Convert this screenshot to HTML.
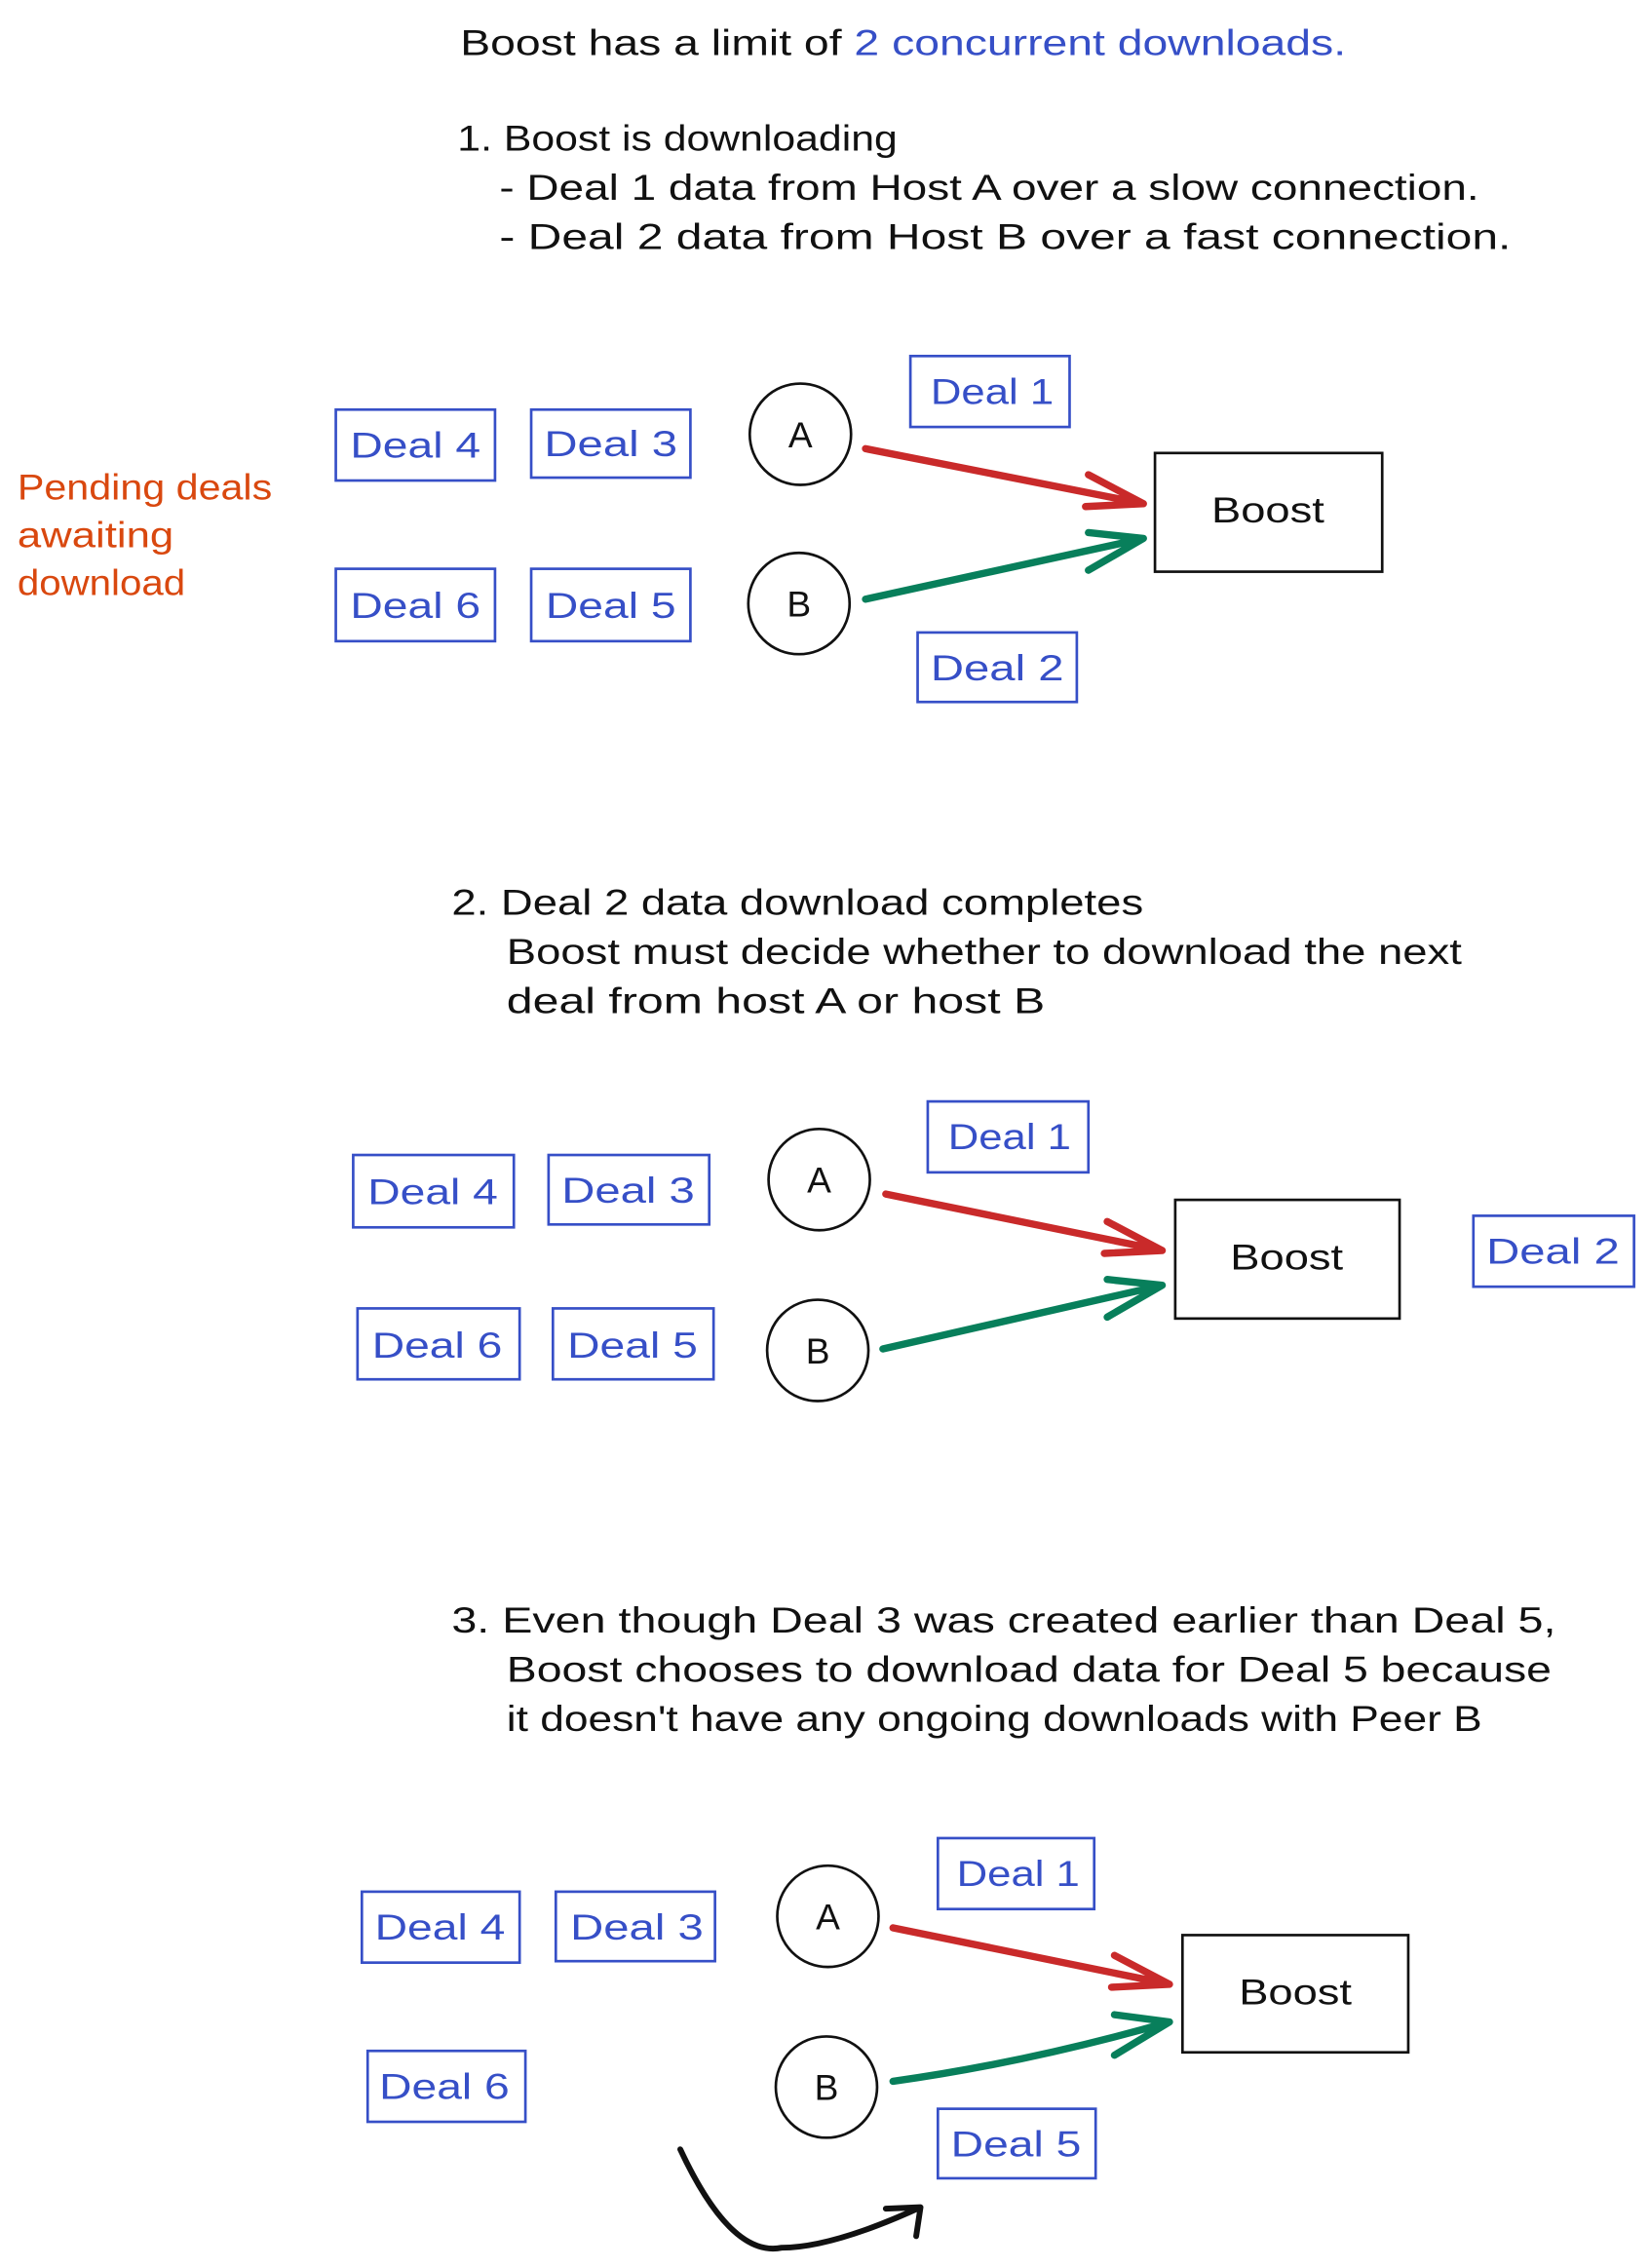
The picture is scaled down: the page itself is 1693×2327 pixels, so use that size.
<!DOCTYPE html>
<html><head><meta charset="utf-8"><style>
html,body{margin:0;padding:0;background:#fff;}
svg{display:block;}
text{font-family:"Liberation Sans",sans-serif;font-size:25px;}
.k{fill:#111;}
.b{fill:#364fc7;}
.bx{fill:none;stroke:#364fc7;stroke-width:1.8;}
.c{fill:none;stroke:#111;stroke-width:1.8;}
.r{fill:none;stroke:#c92a2a;stroke-width:5;stroke-linecap:round;stroke-linejoin:round;}
.g{fill:none;stroke:#087f5b;stroke-width:5;stroke-linecap:round;stroke-linejoin:round;}
</style></head><body>
<svg width="1693" height="2327" viewBox="0 0 1140 1567" xmlns="http://www.w3.org/2000/svg">
<text x="318" y="38" textLength="612" lengthAdjust="spacingAndGlyphs"><tspan class="k">Boost has a limit of </tspan><tspan class="b">2 concurrent downloads.</tspan></text>
<text class="k" x="316" y="104" textLength="304" lengthAdjust="spacingAndGlyphs">1. Boost is downloading</text>
<text class="k" x="345" y="138" textLength="677" lengthAdjust="spacingAndGlyphs">- Deal 1 data from Host A over a slow connection.</text>
<text class="k" x="345" y="172" textLength="699" lengthAdjust="spacingAndGlyphs">- Deal 2 data from Host B over a fast connection.</text>

<g fill="#d9480f">
<text x="12" y="345" textLength="176" lengthAdjust="spacingAndGlyphs" style="fill:#d9480f">Pending deals</text>
<text x="12" y="378" textLength="108" lengthAdjust="spacingAndGlyphs" style="fill:#d9480f">awaiting</text>
<text x="12" y="411" textLength="116" lengthAdjust="spacingAndGlyphs" style="fill:#d9480f">download</text>
</g>

<!-- Section 1 -->
<g>
<rect class="bx" x="232" y="283" width="110" height="49"/><text class="b" x="242" y="316" textLength="90" lengthAdjust="spacingAndGlyphs">Deal 4</text>
<rect class="bx" x="367" y="283" width="110" height="47"/><text class="b" x="376" y="315" textLength="92" lengthAdjust="spacingAndGlyphs">Deal 3</text>
<rect class="bx" x="232" y="393" width="110" height="50"/><text class="b" x="242" y="427" textLength="90" lengthAdjust="spacingAndGlyphs">Deal 6</text>
<rect class="bx" x="367" y="393" width="110" height="50"/><text class="b" x="377" y="427" textLength="90" lengthAdjust="spacingAndGlyphs">Deal 5</text>
<rect class="bx" x="629" y="246" width="110" height="49"/><text class="b" x="643" y="279" textLength="85" lengthAdjust="spacingAndGlyphs">Deal 1</text>
<rect class="bx" x="634" y="437" width="110" height="48"/><text class="b" x="643" y="470" textLength="92" lengthAdjust="spacingAndGlyphs">Deal 2</text>
<circle class="c" cx="553" cy="300" r="35"/><text class="k" x="553" y="309" text-anchor="middle">A</text>
<circle class="c" cx="552" cy="417" r="35"/><text class="k" x="552" y="426" text-anchor="middle">B</text>
<rect class="c" x="798" y="313" width="157" height="82"/><text class="k" x="876" y="361" text-anchor="middle" textLength="78" lengthAdjust="spacingAndGlyphs">Boost</text>
<path class="r" d="M598 310 L790 348 M752 328 L790 348 L750 350"/>
<path class="g" d="M598 414 L790 372 M752 394 L790 372 L752 368"/>
</g>

<!-- Section 2 -->
<text class="k" x="312" y="632" textLength="478" lengthAdjust="spacingAndGlyphs">2. Deal 2 data download completes</text>
<text class="k" x="350" y="666" textLength="660" lengthAdjust="spacingAndGlyphs">Boost must decide whether to download the next</text>
<text class="k" x="350" y="700" textLength="372" lengthAdjust="spacingAndGlyphs">deal from host A or host B</text>
<g>
<rect class="bx" x="244" y="798" width="111" height="50"/><text class="b" x="254" y="832" textLength="90" lengthAdjust="spacingAndGlyphs">Deal 4</text>
<rect class="bx" x="379" y="798" width="111" height="48"/><text class="b" x="388" y="831" textLength="92" lengthAdjust="spacingAndGlyphs">Deal 3</text>
<rect class="bx" x="247" y="904" width="112" height="49"/><text class="b" x="257" y="938" textLength="90" lengthAdjust="spacingAndGlyphs">Deal 6</text>
<rect class="bx" x="382" y="904" width="111" height="49"/><text class="b" x="392" y="938" textLength="90" lengthAdjust="spacingAndGlyphs">Deal 5</text>
<rect class="bx" x="641" y="761" width="111" height="49"/><text class="b" x="655" y="794" textLength="85" lengthAdjust="spacingAndGlyphs">Deal 1</text>
<rect class="bx" x="1018" y="840" width="111" height="49"/><text class="b" x="1027" y="873" textLength="92" lengthAdjust="spacingAndGlyphs">Deal 2</text>
<circle class="c" cx="566" cy="815" r="35"/><text class="k" x="566" y="824" text-anchor="middle">A</text>
<circle class="c" cx="565" cy="933" r="35"/><text class="k" x="565" y="942" text-anchor="middle">B</text>
<rect class="c" x="812" y="829" width="155" height="82"/><text class="k" x="889" y="877" text-anchor="middle" textLength="78" lengthAdjust="spacingAndGlyphs">Boost</text>
<path class="r" d="M612 825 L803 864 M765 844 L803 864 L763 866"/>
<path class="g" d="M610 932 L803 888 M765 910 L803 888 L765 884"/>
</g>

<!-- Section 3 -->
<text class="k" x="312" y="1128" textLength="763" lengthAdjust="spacingAndGlyphs">3. Even though Deal 3 was created earlier than Deal 5,</text>
<text class="k" x="350" y="1162" textLength="722" lengthAdjust="spacingAndGlyphs">Boost chooses to download data for Deal 5 because</text>
<text class="k" x="350" y="1196" textLength="674" lengthAdjust="spacingAndGlyphs">it doesn't have any ongoing downloads with Peer B</text>
<g>
<rect class="bx" x="250" y="1307" width="109" height="49"/><text class="b" x="259" y="1340" textLength="90" lengthAdjust="spacingAndGlyphs">Deal 4</text>
<rect class="bx" x="384" y="1307" width="110" height="48"/><text class="b" x="394" y="1340" textLength="92" lengthAdjust="spacingAndGlyphs">Deal 3</text>
<rect class="bx" x="254" y="1417" width="109" height="49"/><text class="b" x="262" y="1450" textLength="90" lengthAdjust="spacingAndGlyphs">Deal 6</text>
<rect class="bx" x="648" y="1270" width="108" height="49"/><text class="b" x="661" y="1303" textLength="85" lengthAdjust="spacingAndGlyphs">Deal 1</text>
<rect class="bx" x="648" y="1457" width="109" height="48"/><text class="b" x="657" y="1490" textLength="90" lengthAdjust="spacingAndGlyphs">Deal 5</text>
<circle class="c" cx="572" cy="1324" r="35"/><text class="k" x="572" y="1333" text-anchor="middle">A</text>
<circle class="c" cx="571" cy="1442" r="35"/><text class="k" x="571" y="1451" text-anchor="middle">B</text>
<rect class="c" x="817" y="1337" width="156" height="81"/><text class="k" x="895" y="1385" text-anchor="middle" textLength="78" lengthAdjust="spacingAndGlyphs">Boost</text>
<path class="r" d="M617 1332 L808 1371 M770 1351 L808 1371 L768 1373"/>
<path class="g" d="M617 1438 Q710 1425 808 1397 M770 1420 L808 1397 L770 1392"/>
<path d="M470 1485 Q505 1560 540 1553 Q575 1553 636 1525 M612 1526 L636 1525 L633 1545" fill="none" stroke="#111" stroke-width="4" stroke-linecap="round" stroke-linejoin="round"/>
</g>
</svg>
</body></html>
